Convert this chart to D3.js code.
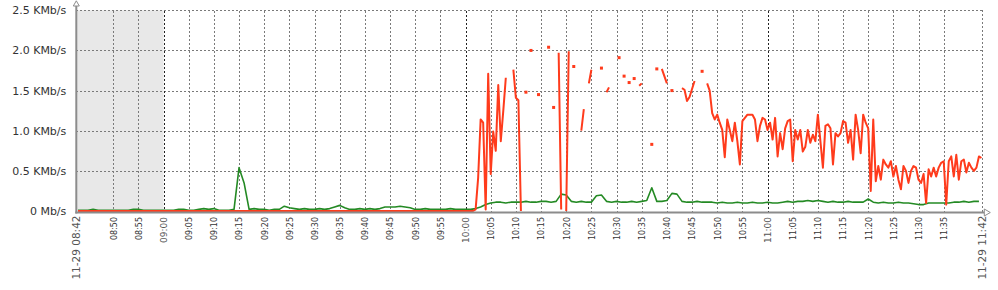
<!DOCTYPE html>
<html><head><meta charset="utf-8">
<script src="https://cdn.jsdelivr.net/npm/d3@7"></script>
<style>
html,body{margin:0;padding:0;background:#fff;}
svg{display:block;}
</style></head><body>
<svg id="chart" width="998" height="290"></svg>
<script>
// ---- data ----
const day = "2012-11-29";
const startTime = "08:42:40";
const endTime = "11:42:40";
const workStart = "09:00:00";

const yTicks = [0, 0.5, 1.0, 1.5, 2.0, 2.5];
const yTickLabels = ["0 Mb/s", "0.5 KMb/s", "1.0 KMb/s", "1.5 KMb/s", "2.0 KMb/s", "2.5 KMb/s"];

const xTickLabels = ["08:50","08:55","09:00","09:05","09:10","09:15","09:20","09:25","09:30","09:35","09:40","09:45","09:50","09:55",
  "10:00","10:05","10:10","10:15","10:20","10:25","10:30","10:35","10:40","10:45","10:50","10:55",
  "11:00","11:05","11:10","11:15","11:20","11:25","11:30","11:35"];
const xEdgeLabels = ["11-29 08:42", "11-29 11:42"];

// green series: one sample per minute from 08:43:00
const greenStart = "08:43:00";
const greenStepSec = 60;
const greenValues = [
  0.01,0.01,0.01,0.02,0.01,0.01,0.01,
  0.01,0.01,0.01,0.01,0.02,0.02,0.01,0.01,0.01,0.01,
  0.01,0.01,0.01,0.02,0.02,0.01,0.01,0.02,0.03,0.02,
  0.03,0.01,0.01,0.01,0.02,0.54,0.35,0.02,0.03,0.02,
  0.02,0.01,0.02,0.02,0.06,0.04,0.03,0.02,0.03,0.02,
  0.02,0.03,0.02,0.03,0.05,0.07,0.04,0.02,0.02,0.03,
  0.02,0.03,0.02,0.03,0.05,0.05,0.05,0.06,0.05,0.04,
  0.02,0.02,0.03,0.02,0.02,0.02,0.02,0.03,0.02,0.02,
  0.02,0.02,0.03,0.05,0.08,0.10,0.11,0.11,0.10,0.11,
  0.11,0.11,0.12,0.11,0.11,0.12,0.12,0.11,0.12,0.21,
  0.20,0.12,0.11,0.12,0.11,0.11,0.19,0.20,0.12,0.11,
  0.12,0.11,0.11,0.12,0.11,0.12,0.13,0.29,0.12,0.12,
  0.13,0.22,0.21,0.12,0.11,0.11,0.12,0.11,0.11,0.11,
  0.10,0.11,0.10,0.10,0.11,0.10,0.10,0.11,0.10,0.10,
  0.11,0.10,0.10,0.11,0.12,0.11,0.12,0.12,0.13,0.12,
  0.13,0.12,0.11,0.12,0.11,0.11,0.12,0.11,0.11,0.11,
  0.15,0.11,0.10,0.11,0.10,0.10,0.11,0.10,0.10,0.09,
  0.08,0.08,0.10,0.10,0.10,0.10,0.10,0.11,0.11,0.12,
  0.11,0.12,0.12
];

// red series: one sample per 30 s from 08:43:00 (null = no data)
const redStart = "08:43:00";
const redStepSec = 30;
const redValues = [
  0,0,0,0,0,0,0,0,0,0,0,0,0,0,
  0,0,0,0,0,0,0,0,0,0,0,0,0,0,0,0,0,0,0,0,
  0,0,0,0,0,0,0,0,0,0,0,0,0,0,0,0,0,0,0,0,
  0,0,0,0,0,0,0,0,0,0,0,0,0,0,0,0,0,0,0,0,
  0,0,0,0,0,0,0,0,0,0,0,0,0,0,0,0,0,0,0,0,
  0,0,0,0,0,0,0,0,0,0,0,0,0,0,0,0,0,0,0,0,
  0,0,0,0,0,0,0,0,0,0,0,0,0,0,0,0,0,0,0,0,
  0,0,0,0,0,0,0,0,0,0,0,0,0,0,0,0,0,0,0,0,
  0,0,0,0,
  0.02,0.41,1.14,1.10,0.02,1.71,0.46,0.99,0.75,1.57,
  0.87,1.25,1.66,null,null,1.76,1.41,1.38,0.00,null,
  1.48,null,2.00,null,null,1.45,null,null,null,2.04,
  null,1.29,null,1.97,0.02,null,0.00,1.99,null,1.80,
  null,null,1.00,1.27,null,1.59,1.76,null,null,null,
  1.78,null,1.48,1.54,null,null,null,1.91,null,1.68,
  null,1.60,null,1.65,null,1.56,1.59,null,null,null,
  0.83,null,1.77,null,1.77,1.68,1.59,null,1.50,null,
  null,null,1.53,1.51,1.37,1.42,1.52,1.62,null,null,
  1.74,null,1.59,1.50,1.22,1.14,1.20,1.10,1.01,0.67,
  1.14,1.01,0.87,1.10,0.87,0.58,1.12,1.16,1.20,1.20,
  1.20,1.14,0.87,1.06,1.16,1.14,1.01,1.10,0.89,1.16,
  0.68,0.97,0.77,1.03,1.12,1.14,0.62,1.01,0.89,1.01,
  0.74,0.80,1.01,0.85,0.95,0.87,1.20,0.87,0.54,1.06,
  1.08,1.03,0.58,0.97,0.93,0.97,1.12,1.10,0.85,1.01,
  0.64,1.20,1.01,0.72,1.20,1.10,1.03,0.25,1.14,0.37,
  0.56,0.39,0.64,0.58,0.54,0.62,0.43,0.56,0.39,0.27,
  0.56,0.50,0.35,0.50,0.56,0.54,0.39,0.35,0.46,0.10,
  0.52,0.43,0.54,0.43,0.54,0.60,0.62,0.08,0.62,0.68,
  0.43,0.70,0.39,0.62,0.64,0.48,0.60,0.54,0.50,0.54,
  0.68,0.66
];

// ---- drawing ----
const parseT = d3.timeParse("%Y-%m-%d %H:%M:%S");
const T = s => parseT(day + " " + (s.length === 5 ? s + ":00" : s));
const FONT = "DejaVu Sans, Verdana, sans-serif";

const svg = d3.select("#chart");
const x = d3.scaleTime().domain([T(startTime), T(endTime)]).range([76.3, 982.3]);
const y = d3.scaleLinear().domain([0, 2.5]).range([211, 10.3]);

const x0 = x.range()[0], x1 = x.range()[1];
const yb = y(0), yt = y(2.5);

// non-working-time shading
svg.append("rect")
  .attr("x", x0).attr("y", yt)
  .attr("width", x(T(workStart)) - x0).attr("height", yb - yt)
  .attr("fill", "#e8e8e8");

// horizontal grid + y labels
const gy = svg.append("g")
  .attr("transform", `translate(${x0},0)`)
  .call(d3.axisLeft(y).tickValues(yTicks)
    .tickFormat((d, i) => yTickLabels[i])
    .tickSize(-(x1 - x0)).tickPadding(10));
gy.select(".domain").remove();
gy.selectAll(".tick line")
  .attr("stroke", "#7a7a7a").attr("stroke-dasharray", "2,2")
  .attr("shape-rendering", "crispEdges")
  .style("display", d => d === 0 ? "none" : null);
gy.selectAll(".tick text")
  .attr("font-family", FONT).attr("font-size", 11).attr("fill", "#333");

// vertical grid + x labels
const tickDates = xTickLabels.map(T);
const isHour = d => d.getMinutes() === 0;
const gx = svg.append("g")
  .attr("transform", `translate(0,${yb + 1.5})`)
  .call(d3.axisBottom(x).tickValues(tickDates)
    .tickFormat((d, i) => xTickLabels[i])
    .tickSize(-(yb + 1.5 - yt)));
gx.select(".domain").remove();
gx.selectAll(".tick line")
  .attr("stroke", d => isHour(d) ? "#222" : "#7a7a7a")
  .attr("stroke-dasharray", "2,2")
  .attr("shape-rendering", "crispEdges");
gx.selectAll(".tick text")
  .attr("transform", "rotate(-90)")
  .attr("x", -4.5).attr("y", 0).attr("dy", "0.35em")
  .attr("text-anchor", "end")
  .attr("font-family", FONT)
  .attr("font-size", d => isHour(d) ? 9 : 8)
  .attr("fill", d => isHour(d) ? "#555" : "#333");

// right border dotted line
svg.append("line")
  .attr("x1", x1 + 0.5).attr("x2", x1 + 0.5).attr("y1", yt).attr("y2", yb + 1.5)
  .attr("stroke", "#7a7a7a").attr("stroke-dasharray", "2,2")
  .attr("shape-rendering", "crispEdges");

// edge date labels
const gxe = svg.append("g")
  .attr("transform", `translate(0,${yb + 1.5})`)
  .call(d3.axisBottom(x).tickValues([T(startTime), T(endTime)])
    .tickFormat((d, i) => xEdgeLabels[i]).tickSize(0));
gxe.select(".domain").remove();
gxe.selectAll(".tick text")
  .attr("transform", "rotate(-90)")
  .attr("x", -3).attr("y", 0).attr("dy", "0.35em")
  .attr("text-anchor", "end")
  .attr("font-family", FONT).attr("font-size", 10.5).attr("fill", "#555");

// series
function series(startStr, stepSec, values) {
  const t0 = T(startStr).getTime();
  return values.map((v, i) => ({ t: new Date(t0 + i * stepSec * 1000), v }));
}
const green = series(greenStart, greenStepSec, greenValues);
const red = series(redStart, redStepSec, redValues);

const line = d3.line()
  .defined(d => d.v !== null)
  .x(d => x(d.t)).y(d => y(d.v));

svg.append("path").datum(green)
  .attr("d", line).attr("fill", "none")
  .attr("stroke", "#248a24").attr("stroke-width", 1.6)
  .attr("stroke-linejoin", "round");

svg.append("path").datum(red)
  .attr("d", line).attr("fill", "none")
  .attr("stroke", "#ff3b1c").attr("stroke-width", 2)
  .attr("stroke-linejoin", "round");

// isolated red samples shown as small squares
const lonely = red.filter((d, i) => d.v !== null &&
  (i === 0 || red[i - 1].v === null) &&
  (i === red.length - 1 || red[i + 1].v === null));
svg.selectAll("rect.pt").data(lonely).join("rect")
  .attr("class", "pt")
  .attr("x", d => x(d.t) - 1.5).attr("y", d => y(d.v) - 1.5)
  .attr("width", 3).attr("height", 3)
  .attr("fill", "#ff3b1c");

// axes lines with arrows
const axisColor = "#8c8c8c";
svg.append("line")
  .attr("x1", x0).attr("x2", x0).attr("y1", yb + 2.5).attr("y2", 5)
  .attr("stroke", axisColor).attr("stroke-width", 2);
svg.append("path")
  .attr("d", `M${x0 - 3},${6} L${x0},${0.8} L${x0 + 3},${6} Z`)
  .attr("fill", "#fff").attr("stroke", axisColor).attr("stroke-width", 1);
svg.append("line")
  .attr("x1", x0 - 1).attr("x2", x1 + 2).attr("y1", yb + 1.5).attr("y2", yb + 1.5)
  .attr("stroke", axisColor).attr("stroke-width", 2);
svg.append("path")
  .attr("d", `M${x1 + 2},${yb - 2} L${x1 + 8},${yb + 1.5} L${x1 + 2},${yb + 5} Z`)
  .attr("fill", "#fff").attr("stroke", axisColor).attr("stroke-width", 1);
</script>
</body></html>
